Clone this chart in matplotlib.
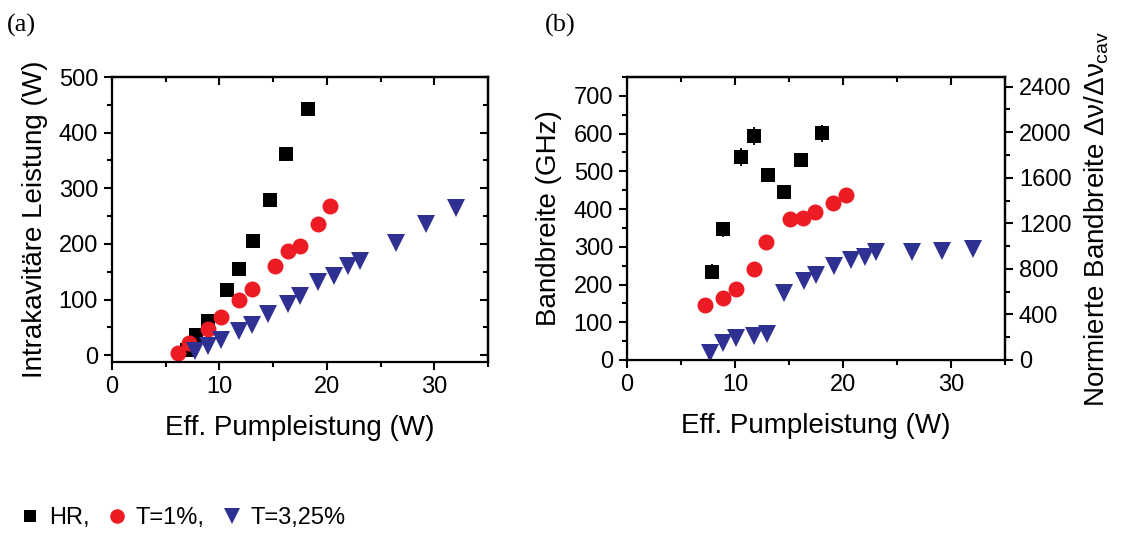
import matplotlib.pyplot as plt
from matplotlib.lines import Line2D
from matplotlib.ticker import MultipleLocator

plt.rcParams['font.family'] = ['Liberation Sans', 'DejaVu Sans']
plt.rcParams['mathtext.fontset'] = 'custom'
plt.rcParams['mathtext.rm'] = 'Liberation Sans'
plt.rcParams['mathtext.it'] = 'Liberation Sans'

# (a) intracavity power vs. effective pump power
hr_pump_a = [7.0, 7.85, 8.9, 10.7, 11.8, 13.1, 14.7, 16.2, 18.2]
hr_power = [10, 37, 62, 118, 155, 206, 279, 361, 443]
t1_pump_a = [6.1, 7.2, 8.9, 10.1, 11.8, 13.0, 15.2, 16.4, 17.5, 19.2, 20.3]
t1_power = [5, 22, 47, 69, 99, 120, 160, 187, 196, 236, 269]
t325_pump = [7.7, 8.9, 10.1, 11.8, 13.0, 14.5, 16.4, 17.5, 19.2, 20.7, 22.0, 23.1, 26.4, 29.2, 32.0]
t325_power = [7, 17, 28, 43, 54, 74, 92, 106, 131, 142, 160, 170, 202, 236, 265]

# (b) bandwidth vs. effective pump power
hr_pump_b = [7.84, 8.92, 10.6, 11.76, 13.06, 14.57, 16.08, 18.1]
hr_bw = [234, 347, 538, 594, 489, 445, 530, 601]
hr_bw_err = [20, 20, 25, 24, 12, 10, 15, 22]
t1_pump_b = [7.22, 8.92, 10.06, 11.76, 12.9, 15.1, 16.27, 17.4, 19.1, 20.25]
t1_bw = [146, 164, 188, 241, 313, 373, 376, 393, 416, 438]
t325_bw = [18, 46, 57, 64, 69, 177, 209, 225, 249, 265, 274, 285, 285, 290, 294]

c_hr = 'black'
c_t1 = '#ED1C24'
c_t325 = '#2E3192'

W, H = 1127, 539
fig = plt.figure(figsize=(W / 100, H / 100), dpi=100)


def px_axes(left, right, top, bottom):
    return fig.add_axes([left / W, 1 - bottom / H, (right - left) / W, (bottom - top) / H])


def style(ax):
    for s in ax.spines.values():
        s.set_linewidth(1.6)
    ax.tick_params(which='both', direction='out', width=1.5, labelsize=17, pad=4)
    ax.tick_params(which='major', length=6)
    ax.tick_params(which='minor', length=3.5)
    ax.xaxis.set_minor_locator(MultipleLocator(5))
    ax.xaxis.set_major_locator(MultipleLocator(10))
    # mirrored ticks on top point inward
    sec = ax.secondary_xaxis('top')
    sec.set_xticks(range(0, 40, 10))
    sec.xaxis.set_minor_locator(MultipleLocator(5))
    sec.tick_params(which='both', direction='in', width=1.5, labeltop=False)
    sec.tick_params(which='major', length=6)
    sec.tick_params(which='minor', length=3.5)
    sec.spines['top'].set_linewidth(1.6)


ms = dict(linestyle='none', markeredgewidth=0)

# ---- panel (a)
axa = px_axes(112, 488, 77, 362)
axa.plot(hr_pump_a, hr_power, marker='s', markersize=10.5, color=c_hr, **ms)
axa.plot(t1_pump_a, t1_power, marker='o', markersize=11.5, color=c_t1, **ms)
axa.plot(t325_pump, t325_power, marker='v', markersize=13, color=c_t325, **ms)
axa.set_xlim(0, 35)
axa.set_ylim(-12, 500)
axa.yaxis.set_major_locator(MultipleLocator(100))
axa.yaxis.set_minor_locator(MultipleLocator(50))
style(axa)
seca = axa.secondary_yaxis('right')
seca.yaxis.set_major_locator(MultipleLocator(100))
seca.yaxis.set_minor_locator(MultipleLocator(50))
seca.tick_params(which='both', direction='in', width=1.5, labelright=False)
seca.tick_params(which='major', length=6)
seca.tick_params(which='minor', length=3.5)
seca.spines['right'].set_linewidth(1.6)
axa.set_xlabel('Eff. Pumpleistung (W)', fontsize=20, labelpad=12)
axa.set_ylabel('Intrakavitäre Leistung (W)', fontsize=20, labelpad=8)

# ---- panel (b)
axb = px_axes(627, 1005, 77, 360)
axb.errorbar(hr_pump_b, hr_bw, yerr=hr_bw_err, fmt='s', markersize=10.5, color=c_hr,
             ecolor=c_hr, elinewidth=1.3, capsize=3.5, capthick=1.3, markeredgewidth=0)
axb.plot(t1_pump_b, t1_bw, marker='o', markersize=11.5, color=c_t1, **ms)
axb.plot(t325_pump, t325_bw, marker='v', markersize=13, color=c_t325, **ms)
axb.set_xlim(0, 35)
axb.set_ylim(0, 750)
axb.yaxis.set_major_locator(MultipleLocator(100))
axb.yaxis.set_minor_locator(MultipleLocator(50))
style(axb)
axb.set_xlabel('Eff. Pumpleistung (W)', fontsize=20, labelpad=12)
axb.set_ylabel('Bandbreite (GHz)', fontsize=20, labelpad=8)

axr = axb.twinx()
axr.set_ylim(0, 2485)
axr.yaxis.set_major_locator(MultipleLocator(400))
axr.yaxis.set_minor_locator(MultipleLocator(200))
axr.spines['right'].set_linewidth(1.6)
axr.tick_params(which='both', direction='out', width=1.5, labelsize=17, pad=4)
axr.tick_params(which='major', length=6)
axr.tick_params(which='minor', length=3.5)
axr.set_ylabel(r'Normierte Bandbreite $\Delta\nu/\Delta\nu_{\rm cav}$', fontsize=20, labelpad=8)

fig.text(7 / W, 1 - 25 / H, '(a)', family='Liberation Serif', fontsize=19, va='center')
fig.text(545 / W, 1 - 25 / H, '(b)', family='Liberation Serif', fontsize=19, va='center')

handles = [
    Line2D([], [], marker='s', color=c_hr, markersize=9, **ms),
    Line2D([], [], marker='o', color=c_t1, markersize=10.5, **ms),
    Line2D([], [], marker='v', color=c_t325, markersize=11, **ms),
]
fig.legend(handles, ['HR,', 'T=1%,', 'T=3,25%'], loc='center left',
           bbox_to_anchor=(22 / W, 1 - 518 / H), ncol=3, frameon=False, fontsize=17,
           handlelength=0.7, handletextpad=0.45, columnspacing=0.8,
           borderpad=0, borderaxespad=0)

fig.savefig('out.png', dpi=100)
